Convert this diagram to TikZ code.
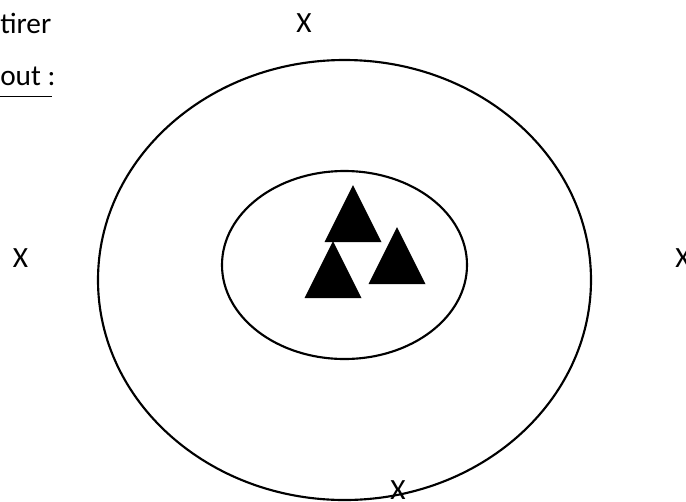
\documentclass[tikz,border=0pt]{standalone}
\usepackage{fontspec}
\setmainfont{Carlito}
\tikzset{
  marque/.style = {font=\fontsize{22}{26}\selectfont,inner sep=0pt},
  cible/.style  = {line width=1.6pt},
  pionfill/.style = {fill=black}
}
\newcommand{\pion}[2]{%
  \fill[pionfill] (#1,#2) -- ++(28.5,57) -- ++(-57,0) -- cycle;
}
\begin{document}
\begin{tikzpicture}[x=0.75pt,y=-0.75pt]
  \useasboundingbox (0,0) rectangle (686,501);
  \clip (0,0) rectangle (686,501);
  % consigne
  \node[marque,anchor=base west] (tirer) at (0,33) {tirer};
  \node[marque,anchor=base west] (but) at (0,85) {out :};
  \draw[line width=1.2pt] (0,96.5) -- (52,96.5);
  % cible
  \draw[cible] (344.5,280) ellipse (246.5 and 220);
  \draw[cible] (344.5,265) ellipse (122.5 and 94);
  % pions
  \pion{353}{185}
  \pion{333}{241}
  \pion{397}{227}
  % croix
  \node[marque] (xhaut)   at (304,23)  {X};
  \node[marque] (xgauche) at (20.5,258) {X};
  \node[marque] (xdroite) at (683,258) {X};
  \node[marque] (xbas)    at (398,490) {X};
\end{tikzpicture}
\end{document}
